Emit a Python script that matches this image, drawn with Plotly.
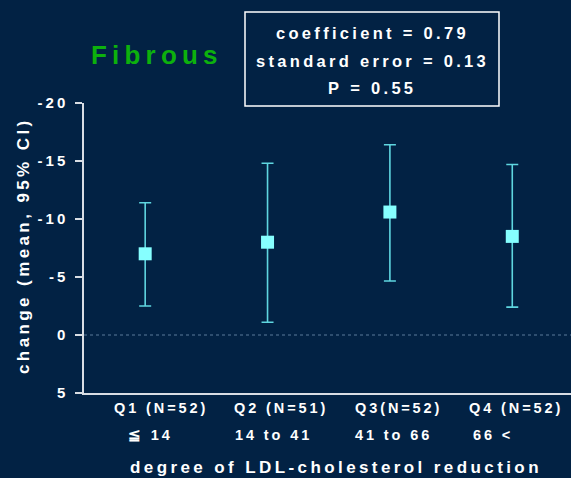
import plotly.graph_objects as go

categories = ["Q1", "Q2", "Q3", "Q4"]
quartile_labels = ["Q1 (N=52)", "Q2 (N=51)", "Q3(N=52)", "Q4 (N=52)"]
range_labels = ["≦ 14", "14 to 41", "41 to 66", "66 <"]
means = [-7.0, -8.0, -10.6, -8.5]
ci_upper = [-11.4, -14.8, -16.4, -14.7]   # more negative end
ci_lower = [-2.5, -1.1, -4.65, -2.4]      # less negative end
y_ticks = [-20, -15, -10, -5, 0, 5]
stats_lines = ["coefficient = 0.79", "standard error = 0.13", "P = 0.55"]
title_text = "Fibrous"
x_title = "degree of LDL-cholesterol reduction"
y_title = "change (mean, 95% CI)"

BG = "#022244"
SP = "\u2009"
FONT = "Liberation Sans, Arial, sans-serif"

# plot area geometry in pixels
L, R, T, B = 84, 571, 103, 393
PW, PH = R - L, B - T


def spaced(s):
    return SP.join(list(s))


def px(xp):
    return (xp - L) / PW


def py(yp):
    return (B - yp) / PH


fig = go.Figure()

fig.add_trace(go.Scatter(
    x=list(range(len(categories))),
    y=means,
    mode="markers",
    marker=dict(symbol="square", size=13, color="#86ffff", line=dict(width=0)),
    error_y=dict(
        type="data",
        symmetric=False,
        array=[lo - m for lo, m in zip(ci_lower, means)],
        arrayminus=[m - up for m, up in zip(means, ci_upper)],
        color="#5fd6e0",
        thickness=1.6,
        width=6,
    ),
    showlegend=False,
))

# zero reference line
fig.add_shape(type="line", xref="paper", yref="y", x0=0, x1=1, y0=0, y1=0,
              line=dict(color="#5a7a9a", width=1, dash="dot"))

fig.update_layout(
    width=571, height=478,
    margin=dict(l=L, r=571 - R, t=T, b=478 - B),
    paper_bgcolor=BG, plot_bgcolor=BG,
    font=dict(family=FONT, color="white"),
    xaxis=dict(range=[-0.5, 3.48], showgrid=False, zeroline=False,
               showticklabels=False, ticks="", showline=True,
               linecolor="#d8dde4", linewidth=1.5),
    yaxis=dict(range=[5, -20], tickvals=y_ticks,
               ticktext=[spaced(str(v)) for v in y_ticks],
               showgrid=False, zeroline=False, showline=True,
               linecolor="#d8dde4", linewidth=1.5, ticks="outside",
               ticklen=7, tickcolor="#d8dde4", tickwidth=1.5,
               tickfont=dict(size=15, color="white", family=FONT, weight="bold"),
               ticklabelstandoff=7),
)

bold = dict(family=FONT, color="white", weight="bold")
ann = []

# category labels (first line centred, second line left-aligned)
q_centers = [159, 279.5, 397, 514]
r_lefts = [125.5, 233, 352.5, 471]
for q, cx in zip(quartile_labels, q_centers):
    ann.append(dict(x=px(cx), xref="paper", y=py(408), yref="paper", text=spaced(q),
                    showarrow=False, font=dict(size=14.5, **bold),
                    xanchor="center", yanchor="middle"))
for r, lx in zip(range_labels, r_lefts):
    ann.append(dict(x=px(lx), xref="paper", y=py(435), yref="paper", text=spaced(r),
                    showarrow=False, font=dict(size=14.5, **bold),
                    xanchor="left", yanchor="middle"))

# axis titles
ann.append(dict(text=spaced(x_title), x=px(334), xref="paper", y=py(467), yref="paper",
                showarrow=False, font=dict(size=17, **bold),
                xanchor="center", yanchor="middle"))
ann.append(dict(text=spaced(y_title), x=px(23), xref="paper", y=py(248), yref="paper",
                showarrow=False, textangle=-90, font=dict(size=17, **bold),
                xanchor="center", yanchor="middle"))
# title
ann.append(dict(text=spaced(title_text), x=px(154), xref="paper", y=py(55), yref="paper",
                showarrow=False,
                font=dict(size=26, family=FONT, color="#0db10d", weight="bold"),
                xanchor="center", yanchor="middle"))
# stats box text
for line, yy in zip(stats_lines, [33, 61, 88]):
    ann.append(dict(text=spaced(line), x=px(370.5), xref="paper", y=py(yy), yref="paper",
                    showarrow=False, font=dict(size=16.5, **bold),
                    xanchor="center", yanchor="middle"))
fig.layout.annotations = ann

fig.add_shape(type="rect", xref="paper", yref="paper",
              x0=px(245), x1=px(499), y0=py(106), y1=py(12),
              line=dict(color="white", width=1.5), fillcolor="rgba(0,0,0,0)")

fig.write_html("out.html")
